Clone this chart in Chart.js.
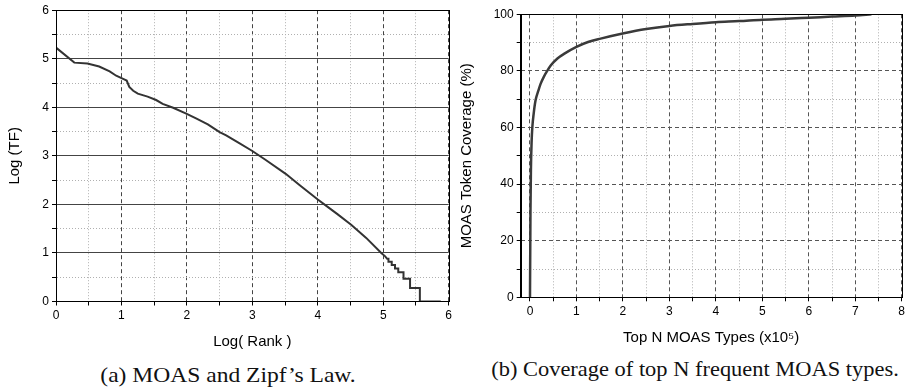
<!DOCTYPE html>
<html lang="en">
<head>
  <meta charset="UTF-8">
  <title>MOAS Zipf and coverage</title>
  <script src="https://cdn.jsdelivr.net/npm/chart.js"></script>
  <style>
    body { margin: 0; background: #fff; width: 909px; height: 388px; position: relative; overflow: hidden; }
    .box { position: absolute; top: 0; }
    .cap { position: absolute; font-family: "Liberation Serif", "Times New Roman", serif; font-size: 22px; color: #111; white-space: nowrap; }
  </style>
</head>
<body>
  <div class="box" style="left:0; width:455px; height:355px;"><canvas id="zipfChart"></canvas></div>
  <div class="box" style="left:455px; width:454px; height:350px;"><canvas id="coverChart"></canvas></div>
  <div class="cap" style="left:228px; top:375px; transform: translate(-50%, -50%) scaleX(1.07);">(a) MOAS and Zipf’s Law.</div>
  <div class="cap" style="left:695px; top:369px; transform: translate(-50%, -50%) scaleX(1.02);">(b) Coverage of top N frequent MOAS types.</div>

  <script>
    // (a) log rank vs log term frequency
    const zipfRank = [0, 0.28, 0.48, 0.66, 0.82, 0.92, 1.05, 1.08, 1.12, 1.18, 1.25, 1.40, 1.53, 1.63, 1.79, 1.99, 2.14, 2.32, 2.50, 2.60, 2.80, 3.00, 3.20, 3.51, 3.72, 4.00, 4.11, 4.30, 4.51, 4.74, 4.97,
      5.03, 5.06, 5.08, 5.08, 5.13, 5.13, 5.18, 5.18, 5.23, 5.23, 5.31, 5.31, 5.41, 5.41, 5.56, 5.56, 5.88];
    const zipfTF = [5.23, 4.92, 4.90, 4.84, 4.74, 4.65, 4.57, 4.55, 4.42, 4.34, 4.28, 4.22, 4.15, 4.07, 3.99, 3.87, 3.77, 3.65, 3.49, 3.42, 3.26, 3.10, 2.92, 2.63, 2.40, 2.10, 1.99, 1.80, 1.58, 1.31, 1.00,
      0.93, 0.88, 0.88, 0.82, 0.82, 0.75, 0.75, 0.68, 0.68, 0.60, 0.60, 0.47, 0.47, 0.28, 0.28, 0, 0];

    // (b) top N types (x10^5) vs token coverage (%)
    const topN = [0, 0.01, 0.02, 0.035, 0.05, 0.08, 0.12, 0.18, 0.23, 0.30, 0.37, 0.45, 0.59, 0.75, 1.0, 1.25, 1.52, 2.02, 2.5, 3.0, 3.5, 4.0, 4.5, 5.0, 5.5, 6.0, 6.5, 7.0, 7.35];
    const coverage = [0, 30, 45, 55, 60, 65, 69.6, 73, 75.5, 78, 80, 82, 84.4, 86.2, 88.5, 90.2, 91.4, 93.3, 94.8, 95.9, 96.6, 97.2, 97.6, 98.1, 98.4, 98.8, 99.2, 99.6, 100];

    Chart.defaults.font.family = '"Liberation Sans", Arial, sans-serif';
    Chart.defaults.color = '#000';

    // closes the box on the top and right sides
    const frame = {
      id: 'frame',
      afterDatasetsDraw(chart) {
        const a = chart.chartArea, c = chart.ctx;
        c.save();
        c.strokeStyle = '#000';
        c.lineWidth = 1;
        c.strokeRect(Math.round(a.left) + 0.5, Math.round(a.top) + 0.5, Math.round(a.right - a.left), Math.round(a.bottom - a.top));
        c.restore();
      }
    };

    const isMajor = (ctx, every) => ctx.tick && Math.abs(ctx.tick.value / every - Math.round(ctx.tick.value / every)) < 1e-6;

    function axis(min, max, step, every, opts) {
      return Object.assign({
        type: 'linear', min: min, max: max,
        ticks: {
          stepSize: step, autoSkip: false, includeBounds: false, maxRotation: 0, font: { size: 12 },
          callback: v => (Math.abs(v / every - Math.round(v / every)) < 1e-6 ? String(v) : '')
        },
        grid: {
          tickLength: 4, tickColor: '#000', tickWidth: 1,
          color: ctx => opts.major(ctx) ? opts.majorColor : '#b0b0b0',
        },
        border: {
          color: '#000', width: 1,
          dash: ctx => opts.major(ctx) ? opts.majorDash : [1, 2]
        }
      }, opts.extra);
    }

    new Chart(document.getElementById('zipfChart'), {
      type: 'line',
      data: {
        datasets: [{
          data: zipfRank.map((x, i) => ({ x: x, y: zipfTF[i] })),
          borderColor: '#333', borderWidth: 2, pointRadius: 0, tension: 0
        }]
      },
      options: {
        responsive: true, maintainAspectRatio: false, animation: false,
        layout: { padding: { left: 0, top: 9, right: 6, bottom: 0 } },
        plugins: { legend: { display: false }, tooltip: { enabled: false } },
        scales: {
          x: axis(0, 6, 0.5, 1, {
            major: ctx => isMajor(ctx, 1), majorColor: '#444', majorDash: [4, 3],
            extra: {
              title: { display: true, text: 'Log( Rank )', font: { size: 15 }, padding: { top: 0, bottom: 4.5 } },
              afterFit: s => { s.height = 53.5; }
            }
          }),
          y: axis(0, 6, 0.5, 1, {
            major: ctx => isMajor(ctx, 1), majorColor: '#444', majorDash: [],
            extra: {
              title: { display: true, text: 'Log (TF)', font: { size: 15 }, padding: { top: 6, bottom: 0 } },
              afterFit: s => { s.width = 56; }
            }
          })
        }
      },
      plugins: [frame]
    });

    new Chart(document.getElementById('coverChart'), {
      type: 'line',
      data: {
        datasets: [{
          data: topN.map((x, i) => ({ x: x, y: coverage[i] })),
          borderColor: '#3a3a3a', borderWidth: 2.5, pointRadius: 0, cubicInterpolationMode: 'monotone'
        }]
      },
      options: {
        responsive: true, maintainAspectRatio: false, animation: false,
        layout: { padding: { left: 0, top: 14.3, right: 7.3, bottom: 0 } },
        plugins: { legend: { display: false }, tooltip: { enabled: false } },
        scales: {
          x: axis(-0.2, 8, 0.5, 1, {
            major: ctx => isMajor(ctx, 1), majorColor: '#555', majorDash: [4, 3],
            extra: {
              title: { display: true, text: 'Top N MOAS Types (x10⁵)', font: { size: 15 }, padding: { top: 0, bottom: 3.5 } },
              afterFit: s => { s.height = 52.7; }
            }
          }),
          y: axis(0, 100, 10, 20, {
            major: ctx => isMajor(ctx, 20), majorColor: '#555', majorDash: [4, 3],
            extra: {
              title: { display: true, text: 'MOAS Token Coverage (%)', font: { size: 15 }, padding: { top: 2.7, bottom: 0 } },
              afterFit: s => { s.width = 65.7; }
            }
          })
        }
      },
      plugins: [frame]
    });
  </script>
</body>
</html>
